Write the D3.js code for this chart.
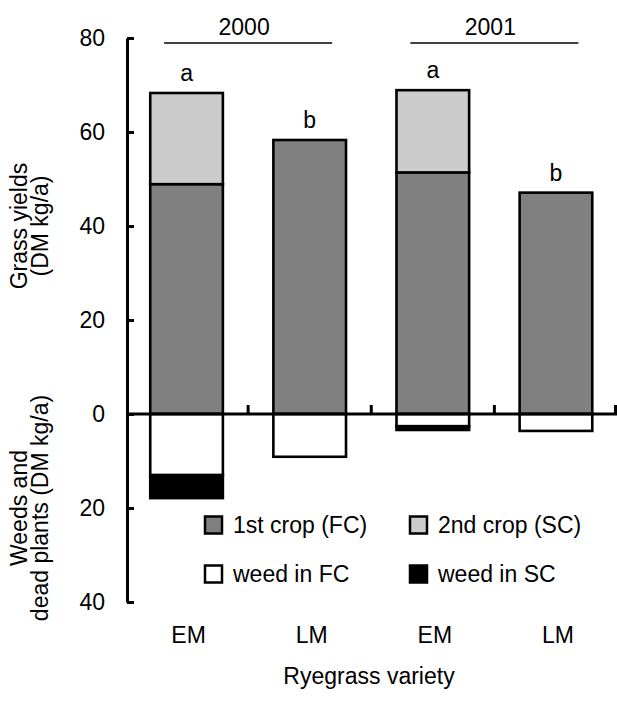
<!DOCTYPE html>
<html>
<head>
<meta charset="utf-8">
<script src="https://cdn.jsdelivr.net/npm/d3@7"></script>
<style>
    body { margin: 0; background: #fff; }
    svg text { font-family: Arial, "Liberation Sans", sans-serif; fill: #000; }
</style>
</head>
<body>
<div id="chart"></div>
<script>
// chart values
const varieties = ["EM", "LM", "EM", "LM"];
const yearOfBar = ["2000", "2000", "2001", "2001"];
const years = ["2000", "2001"];
const firstCrop = [48.9, 58.3, 51.4, 47.1];
const secondCrop = [19.4, 0, 17.5, 0];
const weedFirst = [13.0, 9.1, 2.6, 3.6];
const weedSecond = [4.9, 0, 0.8, 0];
const letters = ["a", "b", "a", "b"];
const yTicks = [80, 60, 40, 20, 0, -20, -40];

const seriesKeys = ["fc", "sc", "wfc", "wsc"];
const seriesNames = {
    fc: "1st crop (FC)",
    sc: "2nd crop (SC)",
    wfc: "weed in FC",
    wsc: "weed in SC"
};
const colours = { fc: "#808080", sc: "#cccccc", wfc: "#ffffff", wsc: "#000000" };

window.onload = function() {
    const width = 617, height = 702;
    const fontSize = 23;

    // weeds are plotted downwards, so store them as negative
    const table = varieties.map((v, i) => ({
        idx: i,
        fc: firstCrop[i],
        sc: secondCrop[i],
        wfc: -weedFirst[i],
        wsc: -weedSecond[i]
    }));

    const stacked = d3.stack()
                      .keys(seriesKeys)
                      .offset(d3.stackOffsetDiverging)(table);

    const x = d3.scaleBand()
                .domain(d3.range(varieties.length))
                .range([125, 617.5])
                .paddingInner(0.41)
                .paddingOuter(0.205);

    const y = d3.scaleLinear()
                .domain([-40, 80])
                .range([602, 38]);

    const axisX = 127;

    const svg = d3.select("#chart")
                  .append("svg")
                  .attr("width", width)
                  .attr("height", height);

    // bars
    svg.append("g")
       .selectAll("g")
       .data(stacked)
       .join("g")
       .attr("fill", d => colours[d.key])
       .selectAll("rect")
       .data(d => d.filter(s => Math.abs(s[1] - s[0]) > 0))
       .join("rect")
       .attr("x", d => x(d.data.idx))
       .attr("width", x.bandwidth())
       .attr("y", d => y(Math.max(d[0], d[1])))
       .attr("height", d => Math.abs(y(d[0]) - y(d[1])))
       .attr("stroke", "#000")
       .attr("stroke-width", 2.6);

    // y axis, ticks point inwards, labels show absolute values
    const yAxis = d3.axisLeft(y)
                    .tickValues(yTicks)
                    .tickSize(-7)
                    .tickSizeOuter(0)
                    .tickPadding(22)
                    .tickFormat(d => Math.abs(d));

    const gy = svg.append("g")
                  .attr("transform", `translate(${axisX},0)`)
                  .call(yAxis);
    gy.select(".domain").attr("stroke-width", 3);
    gy.selectAll(".tick line").attr("stroke-width", 3);
    gy.selectAll(".tick text")
      .attr("font-size", fontSize)
      .attr("font-family", "Arial, 'Liberation Sans', sans-serif");

    // zero line with category boundary ticks
    svg.append("line")
       .attr("x1", axisX)
       .attr("x2", width)
       .attr("y1", y(0))
       .attr("y2", y(0))
       .attr("stroke", "#000")
       .attr("stroke-width", 3);

    const bounds = d3.range(varieties.length)
                     .map(i => Math.min(x(i) + x.bandwidth() / 2 + x.step() / 2, width - 1.5));
    svg.selectAll(".bound")
       .data(bounds)
       .join("line")
       .attr("class", "bound")
       .attr("x1", d => d)
       .attr("x2", d => d)
       .attr("y1", y(0))
       .attr("y2", y(0) - 9)
       .attr("stroke", "#000")
       .attr("stroke-width", 3);

    // significance letters
    svg.selectAll(".letter")
       .data(table)
       .join("text")
       .attr("class", "letter")
       .attr("x", d => x(d.idx) + x.bandwidth() / 2)
       .attr("y", d => y(d.fc + d.sc) - 12)
       .attr("text-anchor", "middle")
       .attr("font-size", fontSize)
       .text(d => letters[d.idx]);

    // year headers
    years.forEach(yr => {
        const idxs = d3.range(varieties.length).filter(i => yearOfBar[i] === yr);
        const mid = d3.mean(idxs, i => x(i) + x.bandwidth() / 2);
        svg.append("line")
           .attr("x1", mid - 84)
           .attr("x2", mid + 84)
           .attr("y1", 43)
           .attr("y2", 43)
           .attr("stroke", "#000")
           .attr("stroke-width", 1.5);
        svg.append("text")
           .attr("x", mid - 4)
           .attr("y", 35)
           .attr("text-anchor", "middle")
           .attr("font-size", fontSize)
           .text(yr);
    });

    // category labels
    svg.selectAll(".cat")
       .data(varieties)
       .join("text")
       .attr("class", "cat")
       .attr("x", (d, i) => x(i) + x.bandwidth() / 2 + 2)
       .attr("y", 643)
       .attr("text-anchor", "middle")
       .attr("font-size", fontSize)
       .text(d => d);

    svg.append("text")
       .attr("x", 369)
       .attr("y", 684)
       .attr("text-anchor", "middle")
       .attr("font-size", fontSize)
       .text("Ryegrass variety");

    // y titles, two lines each
    const yTitles = [
        { lines: ["Grass yields", "(DM kg/a)"], centre: y(40) },
        { lines: ["Weeds and", "dead plants (DM kg/a)"], centre: y(-20) }
    ];
    yTitles.forEach(t => {
        t.lines.forEach((line, k) => {
            const bx = 27 + k * 21;
            svg.append("text")
               .attr("transform", `translate(${bx},${t.centre}) rotate(-90)`)
               .attr("text-anchor", "middle")
               .attr("font-size", fontSize)
               .text(line);
        });
    });

    // legend
    const legendPos = [
        { key: "fc", x: 205, y: 525 },
        { key: "sc", x: 410, y: 525 },
        { key: "wfc", x: 205, y: 574 },
        { key: "wsc", x: 410, y: 574 }
    ];
    const legend = svg.selectAll(".legend")
                      .data(legendPos)
                      .join("g")
                      .attr("class", "legend")
                      .attr("transform", d => `translate(${d.x},${d.y})`);
    legend.append("rect")
          .attr("x", 0)
          .attr("y", -8.5)
          .attr("width", 17)
          .attr("height", 17)
          .attr("fill", d => colours[d.key])
          .attr("stroke", "#000")
          .attr("stroke-width", 2.5);
    legend.append("text")
          .attr("x", 28)
          .attr("y", 0)
          .attr("dy", "0.36em")
          .attr("font-size", fontSize)
          .text(d => seriesNames[d.key]);
};
</script>
</body>
</html>
